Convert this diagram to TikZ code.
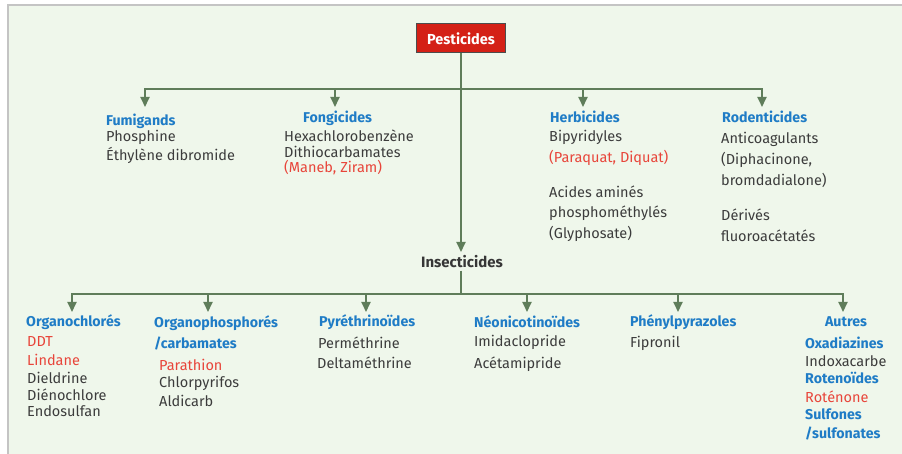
\documentclass[tikz,border=0pt]{standalone}
\usepackage{fontspec}
\setmainfont{Fira Sans}
\usetikzlibrary{arrows.meta}
\definecolor{bgc}{HTML}{EFF7EB}
\definecolor{framec}{HTML}{C4C4C4}
\definecolor{lnc}{HTML}{5F7D5A}
\definecolor{ttlc}{HTML}{1F7CC6}
\definecolor{txtc}{HTML}{3C3C3C}
\definecolor{rdc}{HTML}{E8453A}
\definecolor{boxred}{HTML}{D42016}
\tikzset{
  item/.style={anchor=west, inner sep=0pt, font=\fontsize{14.5}{16}\selectfont, text=txtc},
  ttl/.style={item, font=\fontsize{14.2}{16}\selectfont\bfseries, text=ttlc},
  reditem/.style={item, text=rdc},
  link/.style={draw=lnc, line width=1.8pt},
  arr/.style={link, -{Triangle[length=10pt,width=9pt]}},
  arrb/.style={link, {Triangle[length=10pt,width=9pt]}-{Triangle[length=10pt,width=9pt]}},
}
\begin{document}
\begin{tikzpicture}[x=1pt,y=-1pt]
\useasboundingbox (0,0) rectangle (902,454);
\fill[white] (0,0) rectangle (902,454);
\fill[bgc] (7,6) rectangle (902,454);
\draw[framec, line width=2pt] (7.5,454) -- (7.5,5.5) -- (902,5.5);

% root
\node[fill=boxred, draw=black!70, line width=1pt, minimum width=89pt, minimum height=29pt,
      inner sep=0pt, text=white, font=\fontsize{14.5}{16}\selectfont\bfseries] (pest) at (461,38.5) {Pesticides};

% upper groups
\node[ttl] (fum) at (106,121) {Fumigands};
\node[item] (fum1) at (106,137) {Phosphine};
\node[item] (fum2) at (106,155) {Éthylène dibromide};

\node[ttl] (fon) at (303,118) {Fongicides};
\node[item] (fon1) at (284,136) {Hexachlorobenzène};
\node[item] (fon2) at (284,152) {Dithiocarbamates};
\node[reditem] (fon3) at (284,168) {(Maneb, Ziram)};

\node[ttl] (her) at (550,117) {Herbicides};
\node[item] (her1) at (549,137) {Bipyridyles};
\node[reditem] (her2) at (549,158) {(Paraquat, Diquat)};
\node[item] (her3) at (549,192) {Acides aminés};
\node[item] (her4) at (549,213) {phosphométhylés};
\node[item] (her5) at (549,234) {(Glyphosate)};

\node[ttl] (rod) at (722,117) {Rodenticides};
\node[item] (rod1) at (721,139) {Anticoagulants};
\node[item] (rod2) at (721,160) {(Diphacinone,};
\node[item] (rod3) at (721,180) {bromdadialone)};
\node[item] (rod4) at (721,215) {Dérivés};
\node[item] (rod5) at (721,236) {fluoroacétatés};

% insecticides
\node[inner sep=0pt, text=txtc!90!black, font=\fontsize{15}{17}\selectfont\bfseries,
      minimum height=17pt] (ins) at (462,262) {Insecticides};

% lower groups
\node[ttl] (och) at (26,322) {Organochlorés};
\node[reditem] (och1) at (27,342) {DDT};
\node[reditem] (och2) at (27,360) {Lindane};
\node[item] (och3) at (27,378) {Dieldrine};
\node[item] (och4) at (27,395) {Diénochlore};
\node[item] (och5) at (27,411) {Endosulfan};

\node[ttl] (oph) at (154,323) {Organophosphorés};
\node[ttl] (oph0) at (154,344) {/carbamates};
\node[reditem] (oph1) at (159,365) {Parathion};
\node[item] (oph2) at (159,383) {Chlorpyrifos};
\node[item] (oph3) at (159,401) {Aldicarb};

\node[ttl] (pyr) at (319,322) {Pyréthrinoïdes};
\node[item] (pyr1) at (318,343) {Perméthrine};
\node[item] (pyr2) at (317,363) {Deltaméthrine};

\node[ttl] (neo) at (474,322) {Néonicotinoïdes};
\node[item] (neo1) at (474,342) {Imidaclopride};
\node[item] (neo2) at (474,364) {Acétamipride};

\node[ttl] (phe) at (630,322) {Phénylpyrazoles};
\node[item] (phe1) at (630,343) {Fipronil};

\node[ttl, anchor=center] (aut) at (846,322) {Autres};
\node[ttl] (aut1) at (805,343) {Oxadiazines};
\node[item] (aut2) at (805,361) {Indoxacarbe};
\node[ttl] (aut3) at (805,378) {Rotenoïdes};
\node[reditem] (aut4) at (805,397) {Roténone};
\node[ttl] (aut5) at (805,414) {Sulfones};
\node[ttl] (aut6) at (805,433) {/sulfonates};

% connector coordinates
\coordinate (tFum) at (145,107);
\coordinate (tFon) at (335,107);
\coordinate (tHer) at (583,107);
\coordinate (tRod) at (762,107);
\coordinate (topbar) at (461,89);
\coordinate (tIns) at (461,252);
\coordinate (botbar) at (461,294);
\coordinate (tOch) at (72,312);
\coordinate (tOph) at (208,312);
\coordinate (tPyr) at (366,312);
\coordinate (tNeo) at (527,312);
\coordinate (tPhe) at (678,312);
\coordinate (tAut) at (843,312);

% top tree
\draw[arr] (pest.south) -- (tIns);
\draw[arrb] (tFum) -- (tFum |- topbar) -- (tRod |- topbar) -- (tRod);
\draw[arr] (tFon |- topbar) -- (tFon);
\draw[arr] (tHer |- topbar) -- (tHer);

% bottom tree
\draw[link] (ins.south -| botbar) -- (botbar);
\draw[arrb] (tOch) -- (tOch |- botbar) -- (tAut |- botbar) -- (tAut);
\draw[arr] (tOph |- botbar) -- (tOph);
\draw[arr] (tPyr |- botbar) -- (tPyr);
\draw[arr] (tNeo |- botbar) -- (tNeo);
\draw[arr] (tPhe |- botbar) -- (tPhe);
\end{tikzpicture}
\end{document}
